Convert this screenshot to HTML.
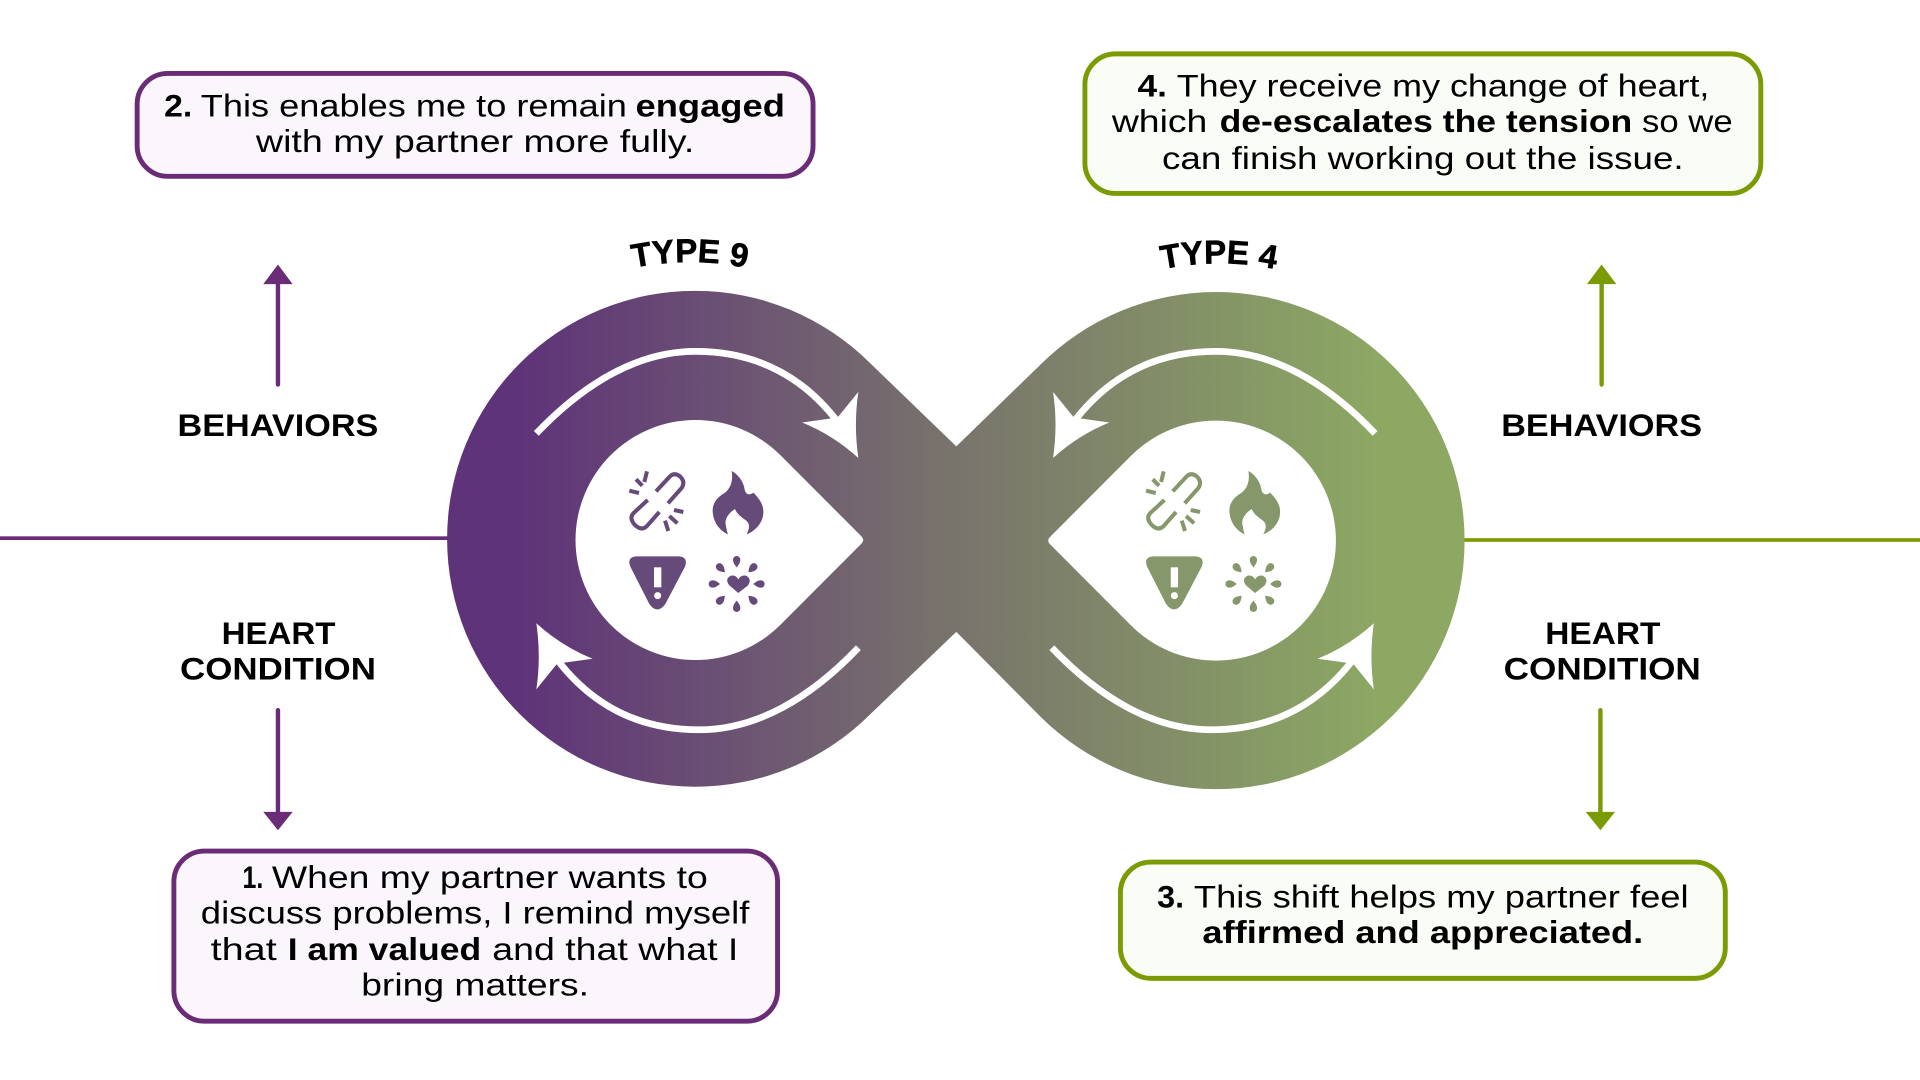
<!DOCTYPE html>
<html>
<head>
<meta charset="utf-8">
<style>
html,body{margin:0;padding:0;background:#fff;width:1920px;height:1080px;overflow:hidden}
svg{display:block}
text{font-family:"Liberation Sans",sans-serif;fill:#000}
.r{font-size:26px}
.b{font-size:26px;font-weight:700}
.h{font-size:26px;font-weight:700}
</style>
</head>
<body>
<svg width="1920" height="1080" viewBox="0 0 1568 882" xmlns="http://www.w3.org/2000/svg">
<defs>
<linearGradient id="g" gradientUnits="userSpaceOnUse" x1="425" y1="0" x2="1125" y2="0">
<stop offset="0" stop-color="#5f3379"/>
<stop offset="0.5" stop-color="#78736c"/>
<stop offset="1" stop-color="#8ca863"/>
</linearGradient>
<g id="icons" transform="translate(490,367.5) scale(0.2722)">
<g fill="none" stroke="currentColor" stroke-width="12">
<path d="M168 124L210 79Q224 66 241 80Q257 96 245 114L204 160"/>
<path d="M143 150L100 190Q87 205 104 224Q124 244 140 229L178 186"/>
<path d="M108 88L127 107M141 64L133 96M88 122L117 129M222 180L250 186M208 198L232 220M195 212L205 243"/>
</g>
<path fill="currentColor" d="M395 63C412 72 430 92 434 118C436 132 448 138 460 128C478 146 492 165 490 190C488 222 462 245 440 253C450 232 450 220 436 210C420 198 410 190 405 177C385 190 372 208 378 228C380 238 381 246 384 253C355 240 338 212 338 180C340 150 360 138 375 128C392 114 400 92 395 63Z"/>
<path fill="currentColor" d="M108 319L238 319Q265 322 255 350L196 462Q172 495 148 462L91 350Q80 322 108 319Z"/>
<rect x="162" y="352" width="22" height="60" fill="#fff"/>
<circle cx="173" cy="437" r="10.5" fill="#fff"/>
<path fill="currentColor" d="M415 429L388 406Q373 387 393 377Q408 374 415 388Q423 374 438 377Q457 387 444 406Z"/>
<g fill="currentColor" transform="translate(410,402)">
<path d="M0 -50Q-12 -64 -11 -73A11 11 0 1 1 11 -73Q12 -64 0 -50Z"/>
<path transform="rotate(45)" d="M0 -50Q-12 -64 -11 -73A11 11 0 1 1 11 -73Q12 -64 0 -50Z"/>
<path transform="rotate(90)" d="M0 -50Q-12 -64 -11 -73A11 11 0 1 1 11 -73Q12 -64 0 -50Z"/>
<path transform="rotate(135)" d="M0 -50Q-12 -64 -11 -73A11 11 0 1 1 11 -73Q12 -64 0 -50Z"/>
<path transform="rotate(180)" d="M0 -50Q-12 -64 -11 -73A11 11 0 1 1 11 -73Q12 -64 0 -50Z"/>
<path transform="rotate(225)" d="M0 -50Q-12 -64 -11 -73A11 11 0 1 1 11 -73Q12 -64 0 -50Z"/>
<path transform="rotate(270)" d="M0 -50Q-12 -64 -11 -73A11 11 0 1 1 11 -73Q12 -64 0 -50Z"/>
<path transform="rotate(315)" d="M0 -50Q-12 -64 -11 -73A11 11 0 1 1 11 -73Q12 -64 0 -50Z"/>
</g>
</g>
<g id="swoosh">
<path d="M438 354C478 312 522 287 568 287C615 287 655 305 686 347" fill="none" stroke="#fff" stroke-width="5.5"/>
<path fill="#fff" d="M655 345L684 341L701 320Q697 347 701 374Q680 355 655 345Z"/>
</g>
<path id="a9" d="M333.5 444A230 230 0 0 1 793.5 444"/>
<path id="a4" d="M765.5 445A230 230 0 0 1 1225.5 445"/>
</defs>

<!-- horizontal rules -->
<rect x="0" y="438" width="370" height="3" fill="#6b2c77"/>
<rect x="1190" y="439.5" width="378" height="3" fill="#7b9b05"/>

<!-- infinity -->
<path fill="url(#g)" d="M711 297A202.5 202.5 0 1 0 711 583L781 516L849.5 585A203 203 0 1 0 849.5 298L781 364.5Z"/>
<path fill="#fff" d="M637.3 371.7A98 98 0 1 0 637.3 510.3L703.5 444Q706.5 441 703.5 438Z"/>
<path fill="#fff" d="M923.7 372.2A98 98 0 1 1 923.7 510.8L857.5 444.5Q854.5 441.5 857.5 438.5Z"/>

<!-- white swooshes -->
<use href="#swoosh"/>
<use href="#swoosh" transform="rotate(180 569.5 441.5)"/>
<use href="#swoosh" transform="matrix(-1 0 0 1 1561 0)"/>
<use href="#swoosh" transform="matrix(-1 0 0 1 1559 0) rotate(180 569 441.5)"/>

<!-- icons -->
<use href="#icons" style="color:#664a7a"/>
<use href="#icons" transform="translate(422,0)" style="color:#85976b"/>

<!-- type labels -->
<text font-size="27" font-weight="700" stroke="#000" stroke-width="0.5" text-anchor="middle"><textPath href="#a9" startOffset="50%">TYPE 9</textPath></text>
<text font-size="27" font-weight="700" stroke="#000" stroke-width="0.5" text-anchor="middle"><textPath href="#a4" startOffset="50%">TYPE 4</textPath></text>

<!-- vertical arrows -->
<g fill="none" stroke-width="3.6" stroke-linecap="round">
<path d="M227 314V230M227 580V665" stroke="#6b2c77"/>
<path d="M1308 314V230M1307 580V665" stroke="#7b9b05"/>
</g>
<path fill="#6b2c77" d="M227 216L239 232H215ZM227 678L215 663H239Z"/>
<path fill="#7b9b05" d="M1308 216L1320 232H1296ZM1307 678L1295 663H1319Z"/>

<!-- side labels -->
<text class="h" x="145" y="356" textLength="164" lengthAdjust="spacingAndGlyphs">BEHAVIORS</text>
<text class="h" x="1226" y="356" textLength="164" lengthAdjust="spacingAndGlyphs">BEHAVIORS</text>
<text class="h" x="181" y="526" textLength="93" lengthAdjust="spacingAndGlyphs">HEART</text>
<text class="h" x="147" y="555" textLength="160" lengthAdjust="spacingAndGlyphs">CONDITION</text>
<text class="h" x="1262" y="526" textLength="94" lengthAdjust="spacingAndGlyphs">HEART</text>
<text class="h" x="1228" y="555" textLength="161" lengthAdjust="spacingAndGlyphs">CONDITION</text>

<!-- box 2 -->
<rect x="112" y="60" width="552" height="84" rx="25" fill="#faf6fc" stroke="#6b2c77" stroke-width="4"/>
<text class="b" x="134" y="95" textLength="23" lengthAdjust="spacingAndGlyphs">2.</text>
<text class="r" x="164" y="95" textLength="348" lengthAdjust="spacingAndGlyphs">This enables me to remain</text>
<text class="b" x="519" y="95" textLength="122" lengthAdjust="spacingAndGlyphs">engaged</text>
<text class="r" x="209" y="124" textLength="358" lengthAdjust="spacingAndGlyphs">with my partner more fully.</text>

<!-- box 4 -->
<rect x="886" y="44" width="552" height="114" rx="25" fill="#fafcf6" stroke="#7b9b05" stroke-width="4"/>
<text class="b" x="929" y="79" textLength="24" lengthAdjust="spacingAndGlyphs">4.</text>
<text class="r" x="961" y="79" textLength="435" lengthAdjust="spacingAndGlyphs">They receive my change of heart,</text>
<text class="r" x="908" y="108" textLength="78" lengthAdjust="spacingAndGlyphs">which</text>
<text class="b" x="996" y="108" textLength="337" lengthAdjust="spacingAndGlyphs">de-escalates the tension</text>
<text class="r" x="1341" y="108" textLength="74" lengthAdjust="spacingAndGlyphs">so we</text>
<text class="r" x="949" y="138" textLength="426" lengthAdjust="spacingAndGlyphs">can finish working out the issue.</text>

<!-- box 1 -->
<rect x="142" y="695" width="493" height="139" rx="25" fill="#faf6fc" stroke="#6b2c77" stroke-width="4"/>
<text class="b" x="198" y="725" textLength="17" lengthAdjust="spacingAndGlyphs">1.</text>
<text class="r" x="222" y="725" textLength="356" lengthAdjust="spacingAndGlyphs">When my partner wants to</text>
<text class="r" x="164" y="754" textLength="448" lengthAdjust="spacingAndGlyphs">discuss problems, I remind myself</text>
<text class="r" x="172" y="784" textLength="54" lengthAdjust="spacingAndGlyphs">that</text>
<text class="b" x="235" y="784" textLength="158" lengthAdjust="spacingAndGlyphs">I am valued</text>
<text class="r" x="402" y="784" textLength="201" lengthAdjust="spacingAndGlyphs">and that what I</text>
<text class="r" x="295" y="813" textLength="186" lengthAdjust="spacingAndGlyphs">bring matters.</text>

<!-- box 3 -->
<rect x="915" y="704" width="494" height="95" rx="25" fill="#fafcf6" stroke="#7b9b05" stroke-width="4"/>
<text class="b" x="945" y="741" textLength="22" lengthAdjust="spacingAndGlyphs">3.</text>
<text class="r" x="975" y="741" textLength="404" lengthAdjust="spacingAndGlyphs">This shift helps my partner feel</text>
<text class="b" x="982" y="770" textLength="360" lengthAdjust="spacingAndGlyphs">affirmed and appreciated.</text>
</svg>
</body>
</html>
